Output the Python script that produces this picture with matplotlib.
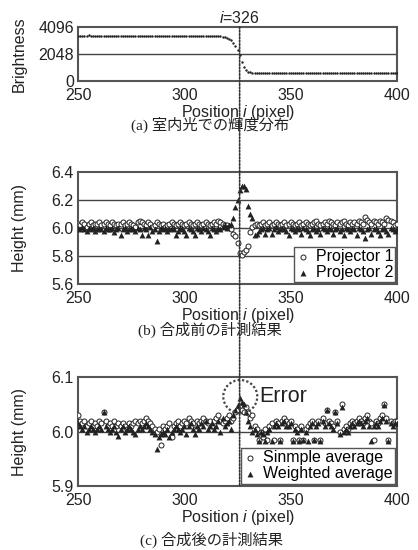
import matplotlib
matplotlib.use("Agg")
import matplotlib.pyplot as plt
from matplotlib.patches import ConnectionPatch, Ellipse

plt.rcParams["font.family"] = ["Liberation Sans", "Noto Sans CJK JP"]
plt.rcParams["mathtext.fontset"] = "custom"
plt.rcParams["mathtext.it"] = "Liberation Sans:italic"
plt.rcParams["mathtext.rm"] = "Liberation Sans"

# pixel index along the measured line
position = list(range(250, 401))
edge_pixel = 326

# (a) brightness under room light
brightness = [
    3440, 3450, 3445, 3440, 3450, 3455, 3445, 3440, 3435, 3445,
    3450, 3440, 3430, 3440, 3445, 3435, 3430, 3440, 3445, 3440,
    3430, 3425, 3435, 3440, 3430, 3425, 3435, 3440, 3435, 3430,
    3440, 3445, 3435, 3430, 3440, 3445, 3440, 3435, 3430, 3425,
    3430, 3435, 3440, 3430, 3425, 3430, 3435, 3430, 3425, 3420,
    3425, 3430, 3420, 3415, 3420, 3425, 3420, 3415, 3420, 3425,
    3420, 3410, 3415, 3420, 3410, 3405, 3400, 3390, 3370, 3340,
    3290, 3210, 3090, 2880, 2620, 2330, 1970, 1440, 1080, 820,
    700, 660, 640, 630, 625, 620, 625, 620, 615, 620,
    625, 620, 615, 620, 625, 620, 615, 620, 615, 610,
    615, 620, 615, 610, 615, 620, 615, 610, 615, 620,
    615, 610, 605, 610, 615, 610, 605, 610, 615, 610,
    605, 600, 605, 610, 605, 600, 605, 610, 605, 600,
    605, 600, 595, 600, 605, 600, 595, 600, 605, 600,
    595, 600, 595, 590, 595, 600, 595, 590, 595, 600,
    595,
]

# (b) height before combining
projector1 = [
    6.03, 6.02, 6.04, 6.03, 6.01, 6.03, 6.04, 6.02, 6.03, 6.03,
    6.04, 6.02, 6.03, 6.04, 6.03, 6.02, 6.04, 6.03, 6.02, 6.03,
    6.03, 6.04, 6.02, 6.03, 6.04, 6.03, 6.02, 6.01, 6.04, 6.05,
    6.04, 6.03, 6.02, 6.04, 6.03, 6.01, 6.02, 6.04, 6.03, 6.02,
    6.03, 6.01, 6.02, 6.03, 6.04, 6.03, 6.02, 6.03, 6.04, 6.03,
    6.02, 6.03, 6.04, 6.03, 6.02, 6.03, 6.04, 6.03, 6.02, 6.03,
    6.04, 6.03, 6.02, 6.03, 6.04, 6.03, 6.05, 6.04, 6.03, 6.02,
    6.02, 6.01, 5.99, 5.96, 5.94, 5.89, 5.82, 5.81, 5.83, 5.84,
    5.87, 5.97, 6.01, 6.02, 6.03, 6.02, 6.03, 6.04, 6.02, 6.03,
    6.04, 6.02, 6.03, 6.04, 6.03, 6.02, 6.03, 6.04, 6.02, 6.03,
    6.04, 6.03, 6.02, 6.03, 6.04, 6.02, 6.03, 6.04, 6.03, 6.02,
    6.03, 6.04, 6.05, 6.03, 6.02, 6.03, 6.04, 6.03, 6.05, 6.04,
    6.03, 6.02, 6.04, 6.03, 6.04, 6.05, 6.03, 6.02, 6.04, 6.03,
    6.04, 6.03, 6.05, 6.04, 6.03, 6.08, 6.06, 6.04, 6.03, 6.05,
    6.04, 6.03, 6.05, 6.04, 6.03, 6.07, 6.06, 6.05, 6.04, 6.02,
    6.03,
]
projector2 = [
    6.00, 5.99, 6.01, 5.99, 5.98, 6.00, 5.99, 6.00, 5.98, 5.99,
    6.00, 5.99, 5.98, 6.00, 5.99, 5.99, 6.00, 5.97, 5.99, 6.00,
    5.95, 5.99, 6.00, 5.98, 5.99, 6.00, 5.99, 5.98, 6.00, 5.99,
    5.95, 6.00, 5.99, 5.95, 6.01, 5.98, 5.99, 5.91, 5.98, 6.00,
    5.99, 6.00, 5.98, 5.99, 6.00, 5.99, 5.95, 5.98, 6.00, 5.99,
    5.98, 5.95, 6.00, 5.99, 5.98, 5.95, 6.00, 5.99, 5.98, 6.00,
    5.99, 5.98, 5.95, 6.00, 5.99, 5.98, 6.00, 5.99, 6.01, 6.02,
    6.00, 6.02, 6.03, 6.07, 6.15, 6.20, 6.27, 6.30, 6.30, 6.28,
    6.16, 6.10, 6.07, 5.95, 5.96, 5.98, 5.99, 6.00, 5.96, 5.99,
    6.00, 5.96, 5.99, 6.01, 5.98, 5.99, 6.00, 5.99, 5.98, 5.95,
    6.00, 5.99, 5.98, 6.00, 5.99, 5.96, 6.00, 5.99, 5.98, 5.95,
    5.99, 6.00, 5.98, 5.99, 5.96, 6.00, 5.99, 5.98, 6.00, 5.99,
    5.96, 5.99, 6.00, 5.98, 5.99, 5.95, 6.00, 5.99, 5.98, 6.00,
    5.99, 5.95, 6.00, 5.99, 5.98, 5.93, 5.99, 6.00, 5.96, 5.99,
    6.00, 5.98, 5.95, 5.99, 6.00, 5.98, 5.96, 6.00, 5.99, 5.98,
    5.99,
]

# (c) height after combining
simple_avg = [
    6.030, 6.020, 6.015, 6.020, 6.010, 6.015, 6.020, 6.010, 6.015, 6.010,
    6.020, 6.015, 6.035, 6.020, 6.010, 6.015, 6.010, 6.020, 6.010, 6.015,
    6.010, 6.015, 6.010, 6.005, 6.015, 6.010, 6.015, 6.020, 6.015, 6.020,
    6.015, 6.020, 6.025, 6.020, 6.015, 6.010, 6.005, 6.000, 6.005, 5.975,
    6.010, 6.005, 6.010, 6.015, 5.990, 6.010, 6.015, 6.020, 6.010, 6.015,
    6.020, 6.015, 6.025, 6.020, 6.015, 6.005, 6.020, 6.015, 6.020, 6.025,
    6.020, 6.015, 6.020, 6.010, 6.020, 6.025, 6.030, 6.020, 6.015, 6.020,
    6.025, 6.030, 6.020, 6.025, 6.035, 6.040, 6.045, 6.040, 6.035, 6.045,
    6.034, 6.025, 6.030, 6.010, 6.005, 5.985, 6.000, 5.990, 6.005, 5.985,
    6.010, 6.015, 5.985, 6.020, 6.015, 5.985, 6.020, 6.025, 6.020, 6.015,
    6.020, 5.985, 6.010, 6.005, 5.985, 6.010, 5.985, 6.005, 6.010, 6.015,
    6.020, 5.985, 6.015, 6.020, 5.985, 6.025, 6.015, 6.040, 6.020, 6.015,
    6.010, 6.035, 6.020, 6.000, 6.050, 6.005, 6.010, 6.005, 6.015, 6.020,
    6.015, 6.020, 6.025, 6.020, 6.015, 6.025, 6.030, 6.020, 6.015, 5.985,
    6.020, 6.015, 6.025, 6.030, 6.050, 6.025, 5.985, 6.020, 6.015, 6.020,
    6.020,
]
weighted_avg = [
    6.015, 6.010, 6.005, 6.010, 6.000, 6.005, 6.010, 6.005, 6.000, 6.005,
    6.010, 6.005, 6.035, 6.010, 6.005, 6.000, 6.005, 6.010, 6.000, 5.992,
    6.005, 6.010, 6.000, 6.005, 6.010, 6.005, 6.000, 5.995, 6.005, 6.010,
    6.005, 6.010, 6.015, 6.010, 6.005, 6.000, 5.995, 5.968, 5.990, 5.995,
    6.000, 5.995, 6.005, 5.990, 6.000, 6.005, 6.010, 6.005, 6.000, 6.005,
    6.010, 5.995, 6.010, 6.015, 6.005, 5.995, 6.010, 6.005, 6.015, 6.010,
    6.020, 6.005, 6.010, 6.015, 6.005, 6.010, 6.020, 6.000, 6.025, 6.010,
    6.015, 6.020, 6.005, 6.030, 6.040, 6.048, 6.062, 6.055, 6.050, 6.035,
    6.020, 6.010, 6.000, 6.005, 5.995, 5.983, 6.000, 5.995, 5.983, 6.000,
    6.005, 5.983, 6.010, 6.015, 6.010, 5.983, 6.015, 6.020, 6.010, 6.010,
    6.015, 5.983, 6.005, 6.000, 5.983, 6.005, 5.985, 6.000, 5.983, 6.010,
    6.015, 5.985, 6.010, 6.015, 5.983, 6.020, 6.010, 6.040, 6.015, 6.010,
    6.005, 6.035, 6.015, 5.995, 6.045, 6.000, 6.005, 6.000, 6.010, 6.015,
    6.010, 6.015, 6.020, 6.015, 6.010, 6.020, 6.025, 6.010, 5.983, 6.010,
    6.015, 6.010, 6.020, 6.025, 6.048, 6.020, 5.983, 6.015, 6.010, 6.015,
    6.015,
]

ink = "#222222"
frame = "#555555"
fs = 11

fig = plt.figure(figsize=(4.18, 5.5), dpi=100)
W, H = 418, 550


def add_panel(top, bottom):
    return fig.add_axes([78 / W, 1 - bottom / H, 319 / W, (bottom - top) / H])


def style(ax, yticks, ylabel, fmt):
    ax.set_xlim(250, 400)
    ax.set_xticks([250, 300, 350, 400])
    ax.set_ylim(yticks[0], yticks[-1])
    ax.set_yticks(yticks)
    ax.set_yticklabels([fmt.format(v) for v in yticks])
    ax.tick_params(length=0, labelsize=fs + 0.5, colors=ink)
    ax.tick_params(axis="x", pad=5)
    ax.tick_params(axis="y", pad=3)
    for s in ax.spines.values():
        s.set_color(frame)
        s.set_linewidth(1.5)
    for v in yticks[1:-1]:
        ax.axhline(v, color="#444444", lw=1, zorder=1)
    ax.set_xlabel("Position $i$ (pixel)", fontsize=fs + 0.5, color=ink, labelpad=0)
    ax.set_ylabel(ylabel, fontsize=fs + 0.5, color=ink)
    ax.yaxis.set_label_coords(-0.16, 0.5)


def legend(ax, pad):
    leg = ax.legend(loc="lower right", fontsize=fs + 0.5, frameon=True,
                    fancybox=False, borderaxespad=pad, borderpad=0.15,
                    labelspacing=0.05, handlelength=0.8, handletextpad=0.4,
                    framealpha=1)
    leg.get_frame().set_edgecolor(frame)
    leg.get_frame().set_linewidth(1)


ax_a = add_panel(27, 81)
ax_b = add_panel(172, 284)
ax_c = add_panel(377, 486)

# (a)
ax_a.scatter(position, brightness, s=3, color=ink, zorder=3, linewidths=0)
style(ax_a, [0, 2048, 4096], "Brightness", "{:d}")
ax_a.text(edge_pixel, 4096 + 60, "$i$=326", ha="center", va="bottom",
          fontsize=fs + 0.5, color=ink)

# (b)
ax_b.scatter(position, projector1, s=13, marker="o", facecolors="white",
             edgecolors=ink, linewidths=0.7, zorder=3, label="Projector 1")
ax_b.scatter(position, projector2, s=18, marker="^", color=ink,
             linewidths=0, zorder=3, label="Projector 2")
style(ax_b, [5.6, 5.8, 6.0, 6.2, 6.4], "Height (mm)", "{:.1f}")
legend(ax_b, 0.1)

# (c)
ax_c.scatter(position, simple_avg, s=13, marker="o", facecolors="white",
             edgecolors=ink, linewidths=0.7, zorder=3, label="Sinmple average")
ax_c.scatter(position, weighted_avg, s=18, marker="^", color=ink,
             linewidths=0, zorder=3, label="Weighted average")
style(ax_c, [5.9, 6.0, 6.1], "Height (mm)", "{:.1f}")
legend(ax_c, 0.15)

ax_c.add_patch(Ellipse((326.3, 6.064), 16, 0.061, fill=False, ec="#444444",
                       lw=1.6, ls=(0, (1, 1)), zorder=4))
ax_c.text(335, 6.064, "Error", fontsize=15.5, ha="left", va="center", color=ink)

# vertical marker through all three panels at the edge pixel
line = ConnectionPatch(xyA=(edge_pixel, 4096), coordsA=ax_a.transData,
                       xyB=(edge_pixel, 5.9), coordsB=ax_c.transData,
                       color="#333333", lw=1.2, ls=(0, (1, 1)), zorder=5)
fig.add_artist(line)

# captions
cap_font = ["Liberation Serif", "Noto Sans CJK JP"]
fig.text(210 / W, 1 - 125 / H, "(a) 室内光での輝度分布", ha="center", va="center",
         fontsize=fs, family=cap_font, color=ink)
fig.text(210 / W, 1 - 330 / H, "(b) 合成前の計測結果", ha="center", va="center",
         fontsize=fs, family=cap_font, color=ink)
fig.text(212 / W, 1 - 540 / H, "(c) 合成後の計測結果", ha="center", va="center",
         fontsize=fs, family=cap_font, color=ink)

fig.savefig("out.png", dpi=100, facecolor="white")
